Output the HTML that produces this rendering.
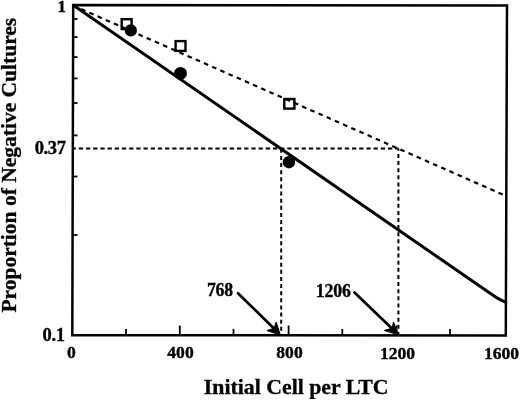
<!DOCTYPE html>
<html><head><meta charset="utf-8">
<style>
html,body{margin:0;padding:0;background:#fff;width:520px;height:400px;overflow:hidden}
svg{display:block;filter:grayscale(1)}
text{font-family:"Liberation Serif",serif;font-weight:bold;fill:#000}
</style></head>
<body>
<svg width="520" height="400" viewBox="0 0 520 400">
<!-- dashed fit line (squares) -->
<line x1="73" y1="5.5" x2="506" y2="196" stroke="#000" stroke-width="2.2" stroke-dasharray="4.6 4.34"/>
<!-- 0.37 guides -->
<line x1="73" y1="148.5" x2="398.5" y2="148.5" stroke="#000" stroke-width="2" stroke-dasharray="4.3 2.89" stroke-dashoffset="1.4"/>
<line x1="281.2" y1="148.5" x2="281.2" y2="334" stroke="#000" stroke-width="2" stroke-dasharray="4 3.12" stroke-dashoffset="6.82"/>
<line x1="398.4" y1="148.5" x2="398.4" y2="334" stroke="#000" stroke-width="2" stroke-dasharray="4 3.12" stroke-dashoffset="1.7"/>
<!-- solid fit line -->
<path d="M73 5 L493 295.3 Q500 300.2 505.5 302" fill="none" stroke="#000" stroke-width="3"/>
<!-- squares -->
<g fill="none" stroke="#000" stroke-width="2.4">
<rect x="121.7" y="19.2" width="9.9" height="9.9"/>
<rect x="175.6" y="41.1" width="9.9" height="9.8"/>
<rect x="284.3" y="99" width="10.1" height="9.6"/>
</g>
<!-- circles -->
<circle cx="130.8" cy="30.4" r="6.1" fill="#000"/>
<circle cx="180.5" cy="73.4" r="6.4" fill="#000"/>
<circle cx="288.9" cy="162.2" r="6.2" fill="#000"/>
<!-- y ticks -->
<g stroke="#000" stroke-width="1.8">
<line x1="73" y1="19" x2="77.5" y2="19"/>
<line x1="73" y1="37.1" x2="77.5" y2="37.1"/>
<line x1="73" y1="57.1" x2="77.5" y2="57.1"/>
<line x1="73" y1="78.4" x2="77.5" y2="78.4"/>
<line x1="73" y1="103" x2="77.5" y2="103"/>
<line x1="73" y1="135.4" x2="77.5" y2="135.4"/>
<line x1="73" y1="176.5" x2="77.5" y2="176.5"/>
<line x1="73" y1="235" x2="77.5" y2="235"/>
</g>
<!-- x ticks -->
<g stroke="#000" stroke-width="1.8">
<line x1="126" y1="329" x2="126" y2="335"/>
<line x1="179.8" y1="325.5" x2="179.8" y2="335"/>
<line x1="233.5" y1="329" x2="233.5" y2="335"/>
<line x1="288.6" y1="325.5" x2="288.6" y2="335"/>
<line x1="342.3" y1="329" x2="342.3" y2="335"/>
<line x1="396.5" y1="325.5" x2="396.5" y2="335"/>
<line x1="450" y1="329" x2="450" y2="335"/>
</g>
<!-- frame -->
<path d="M73.2 5 L507 5.5 L505.8 335.4 L72.3 335.2 Z" fill="none" stroke="#000" stroke-width="2.5" stroke-linejoin="miter"/>
<!-- arrows -->
<g stroke="#000" stroke-width="2.7" fill="#000" stroke-linecap="round">
<line x1="238" y1="293.3" x2="274.5" y2="329"/>
<path d="M280.4 334.9 L276.1 322 L274.2 328.3 L267.3 330.4 Z" stroke-width="1" stroke-linejoin="miter"/>
<line x1="354.5" y1="292.5" x2="392.2" y2="328.8"/>
<path d="M398.4 334.7 L393.5 322 L392 328.3 L384.7 330.3 Z" stroke-width="1" stroke-linejoin="miter"/>
</g>
<!-- tick labels -->
<g font-size="17.6" stroke="#000" stroke-width="0.35">
<text x="65.9" y="12.4" text-anchor="end" font-size="17">1</text>
<text x="65.5" y="154.4" text-anchor="end" font-size="18.5" letter-spacing="-0.4">0.37</text>
<text x="64.5" y="340.8" text-anchor="end" font-size="18.5" letter-spacing="-0.4">0.1</text>
<text x="71.3" y="358.1" text-anchor="middle">0</text>
<text x="180.5" y="358.1" text-anchor="middle">400</text>
<text x="289.5" y="358.1" text-anchor="middle">800</text>
<text x="397.5" y="358.6" text-anchor="middle">1200</text>
<text x="501.5" y="358.5" text-anchor="middle">1600</text>
<text x="220" y="296.4" text-anchor="middle" font-size="17.8" letter-spacing="-0.15">768</text>
<text x="333.3" y="296.6" text-anchor="middle" font-size="17.8" letter-spacing="-0.15">1206</text>
</g>
<!-- axis titles -->
<text x="296.2" y="393.5" font-size="21.8" text-anchor="middle" stroke="#000" stroke-width="0.3">Initial Cell per LTC</text>
<text transform="translate(15.8,165.2) rotate(-90)" font-size="21.5" text-anchor="middle" stroke="#000" stroke-width="0.3">Proportion of Negative Cultures</text>
</svg>
</body></html>
